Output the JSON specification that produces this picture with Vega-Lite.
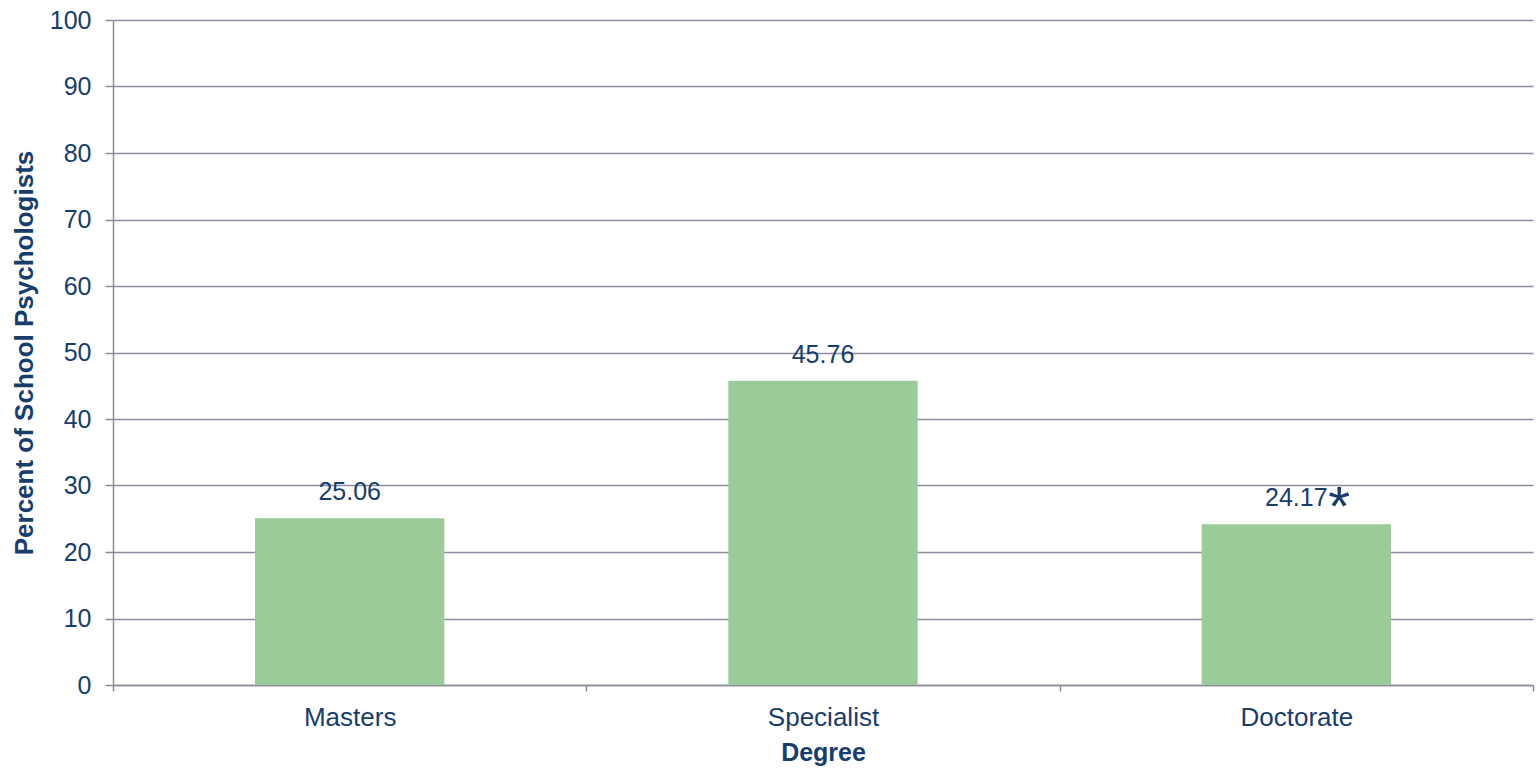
{
  "$schema": "https://vega.github.io/schema/vega-lite/v6.json",
  "autosize": {"type": "none"},
  "padding": {"left": 113, "top": 20, "right": 4, "bottom": 84},
  "width": 1420,
  "height": 665,
  "background": "white",
  "config": {
    "view": {"stroke": null},
    "font": "Liberation Sans"
  },
  "data": {
    "values": [
      {"degree": "Masters", "percent": 25.06, "label": "25.06", "note": ""},
      {"degree": "Specialist", "percent": 45.76, "label": "45.76", "note": ""},
      {"degree": "Doctorate", "percent": 24.17, "label": "24.17", "note": "*"}
    ]
  },
  "encoding": {
    "x": {
      "field": "degree",
      "type": "nominal",
      "sort": ["Masters", "Specialist", "Doctorate"],
      "scale": {"paddingInner": 0, "paddingOuter": 0},
      "axis": {
        "title": "Degree",
        "titleFont": "Liberation Sans",
        "titleFontSize": 25,
        "titleFontWeight": "bold",
        "titleColor": "#173D6D",
        "titlePadding": 10,
        "labelAngle": 0,
        "labelFont": "Liberation Sans",
        "labelFontSize": 26,
        "labelColor": "#173D6D",
        "labelPadding": 13,
        "tickBand": "extent",
        "tickSize": 6,
        "tickColor": "#8A8D9E",
        "domainColor": "#8A8D9E",
        "domainWidth": 1.5,
        "tickWidth": 1.5,
        "grid": false
      }
    },
    "y": {
      "field": "percent",
      "type": "quantitative",
      "scale": {"domain": [0, 100], "nice": false},
      "axis": {
        "title": "Percent of School Psychologists",
        "titleFont": "Liberation Sans",
        "titleFontSize": 26,
        "titleFontWeight": "bold",
        "titleColor": "#173D6D",
        "titlePadding": 12,
        "values": [0, 10, 20, 30, 40, 50, 60, 70, 80, 90, 100],
        "labelFont": "Liberation Sans",
        "labelFontSize": 25,
        "labelColor": "#173D6D",
        "labelPadding": 14,
        "tickSize": 8,
        "tickColor": "#8A8D9E",
        "tickWidth": 1.5,
        "domainColor": "#8A8D9E",
        "domainWidth": 1.5,
        "grid": true,
        "gridColor": "#8A8D9E",
        "gridWidth": 1.5
      }
    }
  },
  "layer": [
    {"mark": {"type": "bar", "color": "#99CC99", "width": {"band": 0.4}}},
    {
      "mark": {"type": "text", "baseline": "alphabetic", "dy": -18, "fontSize": 25, "color": "#173D6D", "font": "Liberation Sans"},
      "encoding": {"text": {"field": "label"}}
    },
    {
      "mark": {"type": "text", "baseline": "alphabetic", "align": "left", "dx": 32, "dy": 1, "fontSize": 56, "color": "#173D6D", "font": "Liberation Sans"},
      "encoding": {"text": {"field": "note"}}
    }
  ]
}
